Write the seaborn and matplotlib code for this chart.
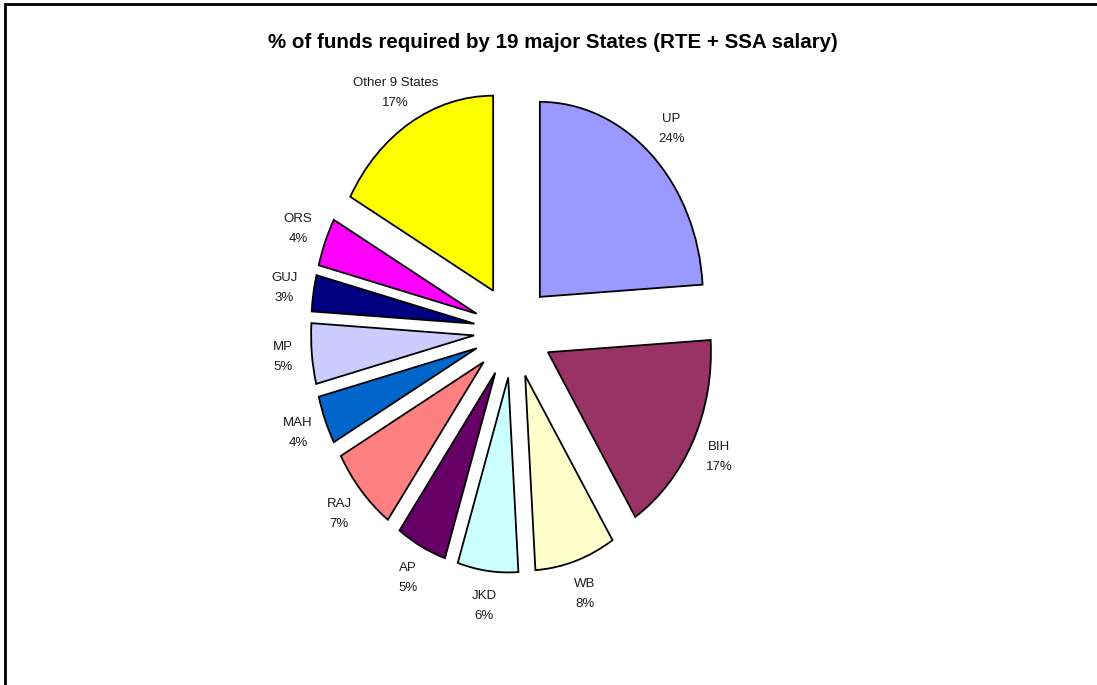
import matplotlib
matplotlib.use("Agg")
import matplotlib.pyplot as plt
from matplotlib.patches import Rectangle
import seaborn as sns

# data (clockwise from 12 o'clock)
states = ["UP", "BIH", "WB", "JKD", "AP", "RAJ", "MAH", "MP", "GUJ", "ORS", "Other 9 States"]
shares = [24, 17, 8, 6, 5, 7, 4, 5, 3, 4, 17]
colors = ["#9999FF", "#993366", "#FFFFCC", "#CCFFFF", "#660066", "#FF8080",
          "#0066CC", "#CCCCFF", "#000080", "#FF00FF", "#FFFF00"]

sns.set_theme(style="white")
plt.rcParams['font.family'] = ['Liberation Sans', 'DejaVu Sans']

fig = plt.figure(figsize=(10.97, 6.85), dpi=100)
fig.patch.set_facecolor("white")

# axes placed so the (slightly stretched) pie sits where the original one is
ax = fig.add_axes([0.0962, 0.0613, 0.743, 0.911])

labels = [f"{s}\n{p}%" for s, p in zip(states, shares)]
wedges, texts = ax.pie(shares, labels=labels, colors=colors, startangle=90,
                       counterclock=False, explode=[0.24] * len(shares),
                       labeldistance=1.18,
                       wedgeprops=dict(edgecolor="black", linewidth=1.3),
                       textprops=dict(fontsize=9.5, color="#1a1a1a", linespacing=1.9))
for t in texts:
    t.set_ha("center")
    t.set_va("center")

# Excel stretched the pie vertically
ax.set_aspect("auto")
ax.set_xlim(-2.5, 2.5)
ax.set_ylim(-1.6, 1.6)
ax.axis("off")

fig.text(0.504, 0.938, "% of funds required by 19 major States (RTE + SSA salary)",
         ha="center", va="center", fontsize=14.8, fontweight="bold", color="black")

# chart border (only left and top edges visible in the original)
fig.patches.append(Rectangle((5 / 1097, -0.1), 1.2, (681 / 685) + 0.1,
                             transform=fig.transFigure, fill=False,
                             edgecolor="black", linewidth=2))

fig.savefig("out.png", dpi=100)
